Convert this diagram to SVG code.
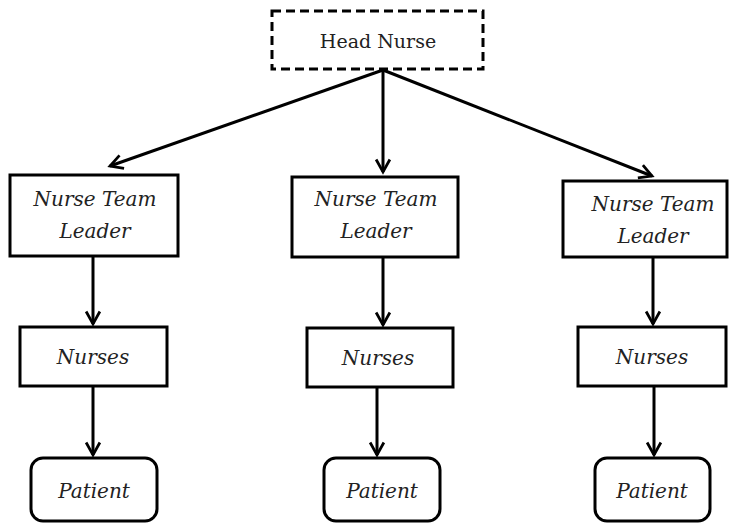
<svg xmlns="http://www.w3.org/2000/svg" width="735" height="524" viewBox="0 0 735 524">
<style>
.box{fill:#fff;stroke:#000;stroke-width:3}
.dash{stroke-dasharray:9 5}
.t{font-family:'DejaVu Serif','Liberation Serif',serif;font-size:20px;fill:#222;text-anchor:middle}
.i{font-style:italic}
.c{stroke:#000;stroke-width:3;fill:none;marker-end:url(#ah)}
</style>
<defs>
<marker id="ah" viewBox="0 0 12 12" refX="10" refY="6" markerWidth="15" markerHeight="15" markerUnits="userSpaceOnUse" orient="auto" overflow="visible">
<path d="M0,0.5 L10,6 L0,11.5" fill="none" stroke="#000" stroke-width="2.2"/>
</marker>
</defs>
<rect width="735" height="524" fill="#fff"/>
<g id="connectors">
<line class="c" x1="383" y1="70" x2="110" y2="166"/>
<line class="c" x1="383" y1="70" x2="383" y2="172"/>
<line class="c" x1="383" y1="70" x2="652" y2="176"/>
<line class="c" x1="93" y1="257" x2="93" y2="324"/>
<line class="c" x1="93" y1="387" x2="93" y2="455"/>
<line class="c" x1="383" y1="258" x2="383" y2="325"/>
<line class="c" x1="377" y1="388" x2="377" y2="455"/>
<line class="c" x1="653" y1="258" x2="653" y2="324"/>
<line class="c" x1="654" y1="387" x2="654" y2="455"/>
</g>
<g id="head"><rect class="box dash" x="272" y="11" width="211" height="58"/><text class="t" x="378" y="48" style="font-size:19px">Head Nurse</text></g>
<g id="leader1"><rect class="box" x="10" y="175" width="168" height="81"/><text class="t i" x="95" y="206">Nurse Team</text><text class="t i" x="95" y="238">Leader</text></g>
<g id="leader2"><rect class="box" x="292" y="177" width="166" height="80"/><text class="t i" x="376" y="206">Nurse Team</text><text class="t i" x="376" y="238">Leader</text></g>
<g id="leader3"><rect class="box" x="563" y="181" width="164" height="76"/><text class="t i" x="653" y="211">Nurse Team</text><text class="t i" x="653" y="243">Leader</text></g>
<g id="nurses1"><rect class="box" x="20" y="327" width="147" height="59"/><text class="t i" x="93" y="364">Nurses</text></g>
<g id="nurses2"><rect class="box" x="307" y="328" width="146" height="59"/><text class="t i" x="378" y="365">Nurses</text></g>
<g id="nurses3"><rect class="box" x="578" y="327" width="148" height="59"/><text class="t i" x="652" y="364">Nurses</text></g>
<g id="patient1"><rect class="box" x="31" y="458" width="126" height="63" rx="12"/><text class="t i" x="94" y="498">Patient</text></g>
<g id="patient2"><rect class="box" x="324" y="458" width="116" height="63" rx="12"/><text class="t i" x="382" y="498">Patient</text></g>
<g id="patient3"><rect class="box" x="595" y="458" width="115" height="63" rx="12"/><text class="t i" x="652" y="498">Patient</text></g>
</svg>
